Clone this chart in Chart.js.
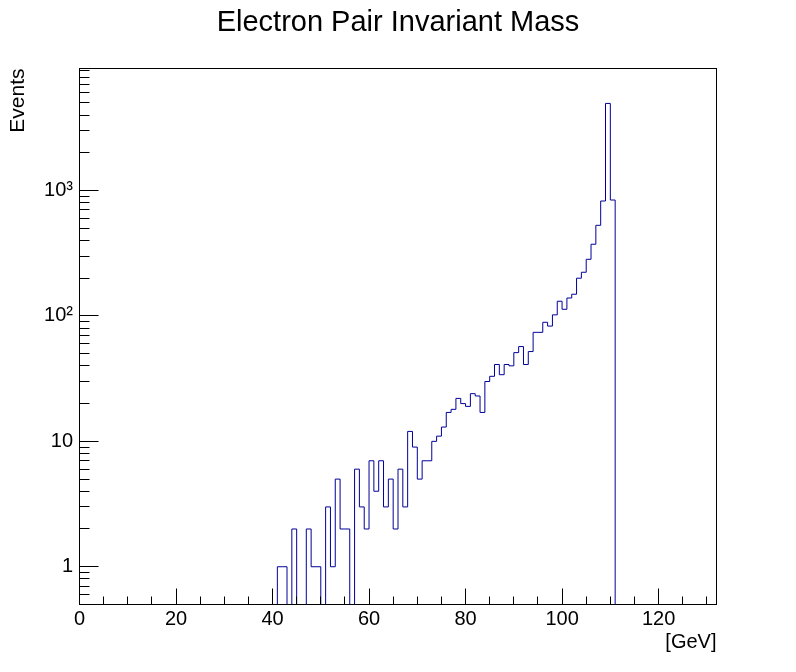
<!DOCTYPE html>
<html>
<head>
<meta charset="utf-8">
<script src="https://cdn.jsdelivr.net/npm/chart.js@4.4.0/dist/chart.umd.min.js"></script>
<style>
html,body{margin:0;padding:0;background:#ffffff;}
canvas{display:block;}
</style>
</head>
<body>
<canvas id="c" width="796" height="672"></canvas>
<script>
// ---- data ----
const TITLE = 'Electron Pair Invariant Mass';
const X_TITLE = '[GeV]';
const Y_TITLE = 'Events';
const X_RANGE = [0, 132];
const Y_RANGE = [0.5, 9400];
const BIN_WIDTH = 1;
const FIRST_BIN_EDGE = 41;
const COUNTS = [
  1, 1, 0, 2, 0, 0, 2, 1, 1, 0,            // 41-50
  3, 1, 5, 2, 2, 0, 6, 3, 2, 7,            // 51-60
  4, 7, 3, 5, 2, 6, 3, 12, 9, 5,           // 61-70
  7, 7, 10, 11, 13, 17, 18, 22, 20, 19,    // 71-80
  24, 23, 17, 30, 33, 41, 34, 41, 40, 51,  // 81-90
  57, 41, 52, 74, 74, 89, 83, 102, 131, 113, // 91-100
  139, 149, 200, 223, 283, 373, 528, 825, 4950, 840 // 101-110
];
const X_MAJOR = [0, 20, 40, 60, 80, 100, 120];
const X_MINOR = [5, 10, 15, 25, 30, 35, 45, 50, 55, 65, 70, 75, 85, 90, 95, 105, 110, 115, 125, 130];
const Y_MAJOR = [1, 10, 100, 1000];
const Y_LABELS = ['1', '10', '10\u00B2', '10\u00B3'];
const Y_MINOR = [0.6, 0.7, 0.8, 0.9,
  2, 3, 4, 5, 6, 7, 8, 9,
  20, 30, 40, 50, 60, 70, 80, 90,
  200, 300, 400, 500, 600, 700, 800, 900,
  2000, 3000, 4000, 5000, 6000, 7000, 8000, 9000];

// ---- build histogram outline points (bin edges) ----
const floorY = Y_RANGE[0];
const points = [];
points.push({x: FIRST_BIN_EDGE, y: floorY});
COUNTS.forEach((c, i) => {
  points.push({x: FIRST_BIN_EDGE + i * BIN_WIDTH, y: c > 0 ? c : floorY});
});
const lastEdge = FIRST_BIN_EDGE + COUNTS.length * BIN_WIDTH;
points.push({x: lastEdge, y: COUNTS[COUNTS.length - 1]});
points.push({x: lastEdge, y: floorY});

const FONT = "'Liberation Sans', Arial, Helvetica, sans-serif";
Chart.defaults.font.family = FONT;
Chart.defaults.color = '#000000';

const frameTicks = {
  id: 'frameTicks',
  afterDatasetsDraw(chart) {
    const {ctx, chartArea: a, scales} = chart;
    const xs = scales.x, ys = scales.y;
    const snap = v => Math.round(v - 0.5) + 0.5;
    ctx.save();
    ctx.strokeStyle = '#000000';
    ctx.lineWidth = 1;
    ctx.beginPath();
    X_MAJOR.forEach(v => { const p = snap(xs.getPixelForValue(v)); ctx.moveTo(p, a.bottom); ctx.lineTo(p, a.bottom - 16); });
    X_MINOR.forEach(v => { const p = snap(xs.getPixelForValue(v)); ctx.moveTo(p, a.bottom); ctx.lineTo(p, a.bottom - 8); });
    Y_MAJOR.forEach(v => { const p = snap(ys.getPixelForValue(v)); ctx.moveTo(a.left, p); ctx.lineTo(a.left + 19, p); });
    Y_MINOR.forEach(v => { const p = snap(ys.getPixelForValue(v)); ctx.moveTo(a.left, p); ctx.lineTo(a.left + 10, p); });
    ctx.stroke();
    ctx.strokeRect(a.left, a.top, a.right - a.left, a.bottom - a.top);
    ctx.restore();
  }
};

new Chart(document.getElementById('c'), {
  type: 'line',
  data: {
    datasets: [{
      label: 'Events',
      data: points,
      stepped: 'before',
      borderColor: '#000099',
      borderWidth: 1,
      pointRadius: 0,
      fill: false,
      tension: 0
    }]
  },
  options: {
    responsive: false,
    animation: false,
    devicePixelRatio: 1,
    layout: {padding: 0},
    plugins: {
      legend: {display: false},
      tooltip: {enabled: false},
      title: {
        display: true,
        text: TITLE,
        color: '#000000',
        font: {family: FONT, size: 29, weight: 'normal', lineHeight: 1.2},
        padding: {top: 5.1, bottom: 28.6}
      }
    },
    scales: {
      x: {
        type: 'linear',
        min: X_RANGE[0],
        max: X_RANGE[1],
        grid: {display: false, drawTicks: false},
        border: {display: false},
        afterBuildTicks: s => { s.ticks = X_MAJOR.map(v => ({value: v})); },
        ticks: {
          autoSkip: false,
          maxRotation: 0,
          padding: 3,
          color: '#000000',
          font: {family: FONT, size: 20},
          callback: v => String(v)
        },
        title: {
          display: true,
          text: X_TITLE,
          align: 'end',
          color: '#000000',
          font: {family: FONT, size: 20, lineHeight: 1.2},
          padding: {top: 0, bottom: 18}
        },
        afterFit: s => { s.height = 67.5; }
      },
      y: {
        type: 'logarithmic',
        position: 'left',
        min: Y_RANGE[0],
        max: Y_RANGE[1],
        grid: {display: false, drawTicks: false},
        border: {display: false},
        afterBuildTicks: s => { s.ticks = Y_MAJOR.map(v => ({value: v})); },
        ticks: {
          autoSkip: false,
          padding: 6.5,
          color: '#000000',
          font: {family: FONT, size: 20},
          callback: (v) => { const i = Y_MAJOR.indexOf(v); return i >= 0 ? Y_LABELS[i] : ''; }
        },
        title: {
          display: true,
          text: Y_TITLE,
          align: 'end',
          color: '#000000',
          font: {family: FONT, size: 21, lineHeight: 1.2},
          padding: {top: 5.5, bottom: 0}
        },
        afterFit: s => { s.width = 79.5; }
      },
      yRight: {
        type: 'linear',
        position: 'right',
        display: true,
        grid: {display: false, drawTicks: false},
        border: {display: false},
        ticks: {display: false},
        afterFit: s => { s.width = 79.5; }
      }
    }
  },
  plugins: [frameTicks]
});
</script>
</body>
</html>
